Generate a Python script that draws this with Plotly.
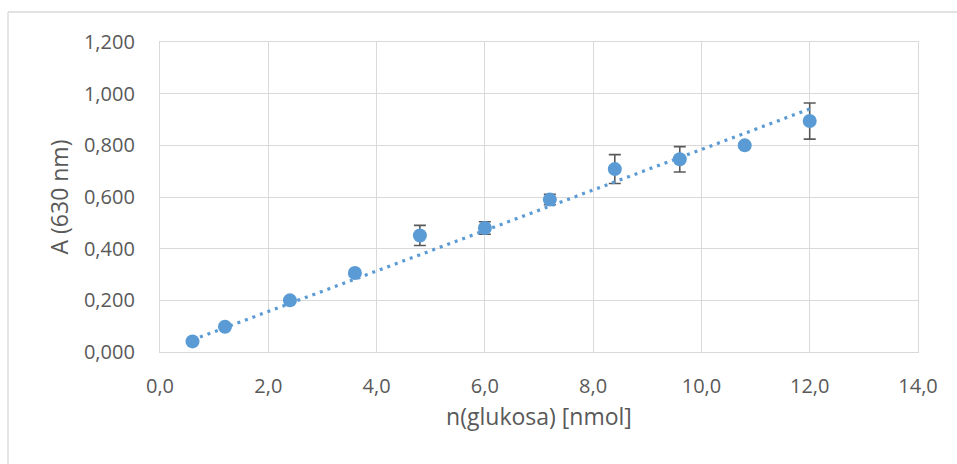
import numpy as np
import plotly.graph_objects as go

# Data
n_glukosa = [0.6, 1.2, 2.4, 3.6, 4.8, 6.0, 7.2, 8.4, 9.6, 10.8, 12.0]
absorbance = [0.041, 0.098, 0.200, 0.306, 0.451, 0.480, 0.590, 0.708, 0.746, 0.800, 0.894]
abs_error = [0.005, 0.008, 0.008, 0.010, 0.039, 0.024, 0.020, 0.056, 0.049, 0.010, 0.070]

x_ticks = [0, 2, 4, 6, 8, 10, 12, 14]
x_ticklabels = ["0,0", "2,0", "4,0", "6,0", "8,0", "10,0", "12,0", "14,0"]
y_ticks = [0, 0.2, 0.4, 0.6, 0.8, 1.0, 1.2]
y_ticklabels = ["0,000", "0,200", "0,400", "0,600", "0,800", "1,000", "1,200"]

x_title = "n(glukosa) [nmol]"
y_title = "A (630 nm)"

# Linear trendline through the origin (least squares, intercept fixed at 0)
xa = np.array(n_glukosa)
ya = np.array(absorbance)
slope = float((xa * ya).sum() / (xa * xa).sum())
trend_x = [min(n_glukosa), max(n_glukosa)]
trend_y = [slope * v for v in trend_x]

BLUE = "#5B9BD5"
GRID = "#D9D9D9"
TEXT = "#595959"
FONT = "Open Sans"

fig = go.Figure()

fig.add_trace(go.Scatter(
    x=n_glukosa, y=absorbance, mode="markers",
    marker=dict(size=14, color=BLUE, line=dict(width=0)),
    error_y=dict(type="data", array=abs_error, visible=True,
                 color="#595959", thickness=1.6, width=6),
    showlegend=False, hoverinfo="x+y",
))

fig.add_trace(go.Scatter(
    x=trend_x, y=trend_y, mode="lines",
    line=dict(color=BLUE, width=3.2, dash="3px,5px"),
    showlegend=False, hoverinfo="skip",
))

W, H = 957, 464
L, R, T, B = 160, 918, 42, 352

axis_common = dict(
    showgrid=True, gridcolor=GRID, gridwidth=1.3,
    showline=True, linecolor=GRID, linewidth=1.3, mirror=True,
    zeroline=False, ticks="",
    tickfont=dict(family=FONT, size=20, color=TEXT),
)

fig.update_layout(
    width=W, height=H,
    margin=dict(l=L, r=W - R, t=T, b=H - B, pad=0),
    paper_bgcolor="white", plot_bgcolor="white",
    font=dict(family=FONT, color=TEXT),
    xaxis=dict(
        range=[0, 14], tickvals=x_ticks, ticktext=x_ticklabels,
        ticklabelstandoff=16,
        title=dict(text=x_title, font=dict(family=FONT, size=23, color=TEXT), standoff=10),
        **axis_common,
    ),
    yaxis=dict(
        range=[0, 1.2], tickvals=y_ticks, ticktext=y_ticklabels,
        ticklabelstandoff=20,
        title=dict(text=y_title, font=dict(family=FONT, size=23, color=TEXT), standoff=8),
        **axis_common,
    ),
)

# outer chart frame (top and left edges visible in the reference)
def px_x(p):
    return (p - L) / (R - L)

def px_y(p):
    return (B - p) / (B - T)

fig.add_shape(type="line", xref="paper", yref="paper",
              x0=px_x(8), x1=px_x(960), y0=px_y(12), y1=px_y(12),
              line=dict(color=GRID, width=1.3))
fig.add_shape(type="line", xref="paper", yref="paper",
              x0=px_x(8), x1=px_x(8), y0=px_y(12), y1=px_y(470),
              line=dict(color=GRID, width=1.3))

fig.write_html("out.html")
